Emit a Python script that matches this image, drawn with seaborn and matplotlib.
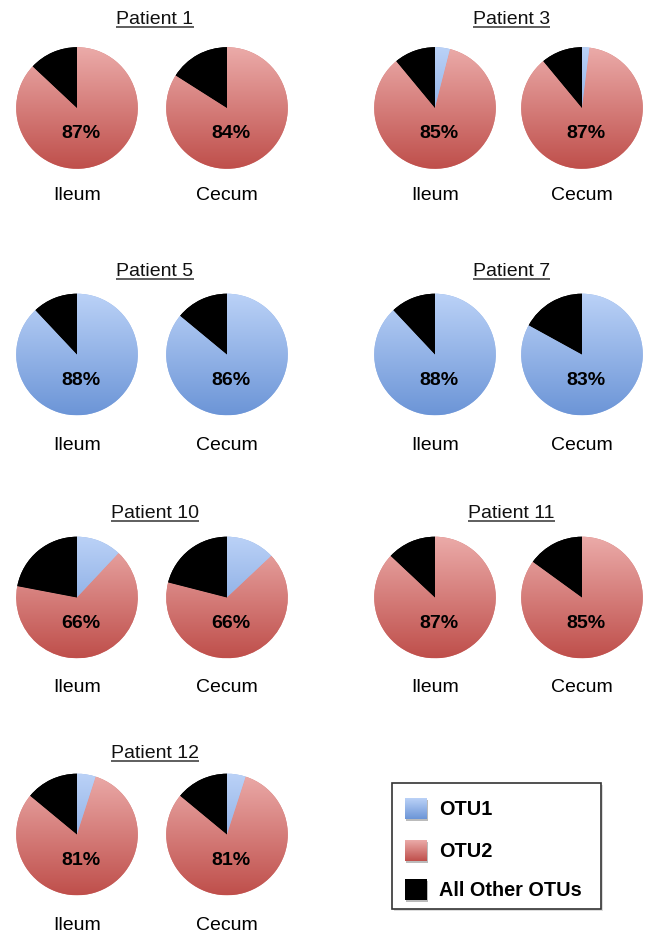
import numpy as np
import matplotlib
matplotlib.use("Agg")
import matplotlib.pyplot as plt
import seaborn as sns
from matplotlib.colors import LinearSegmentedColormap
from matplotlib.patches import Rectangle
from matplotlib.lines import Line2D

sns.set_theme(style="white")
plt.rcParams['font.family'] = ['Liberation Sans', 'DejaVu Sans']

# Relative abundance (%) of OTU1, OTU2 and all other OTUs per patient and site
patients = ["Patient 1", "Patient 3", "Patient 5", "Patient 7",
            "Patient 10", "Patient 11", "Patient 12"]
sites = ["Ileum", "Cecum"]
otu1_ileum = [0, 4, 88, 88, 12, 0, 5]
otu2_ileum = [87, 85, 0, 0, 66, 87, 81]
other_ileum = [13, 11, 12, 12, 22, 13, 14]
otu1_cecum = [0, 2, 86, 83, 13, 0, 5]
otu2_cecum = [84, 87, 0, 0, 66, 85, 81]
other_cecum = [16, 11, 14, 17, 21, 15, 14]
legend_labels = ["OTU1", "OTU2", "All Other OTUs"]

W, H = 655, 933
fig = plt.figure(figsize=(W / 100, H / 100), dpi=100)
fig.patch.set_facecolor("white")

# full-figure overlay in pixel coordinates for text and legend
ov = fig.add_axes([0, 0, 1, 1])
ov.set_xlim(0, W)
ov.set_ylim(H, 0)
ov.axis("off")

blue_cmap = LinearSegmentedColormap.from_list("otu1", ["#6C95D7", "#BBD2F7"])
red_cmap = LinearSegmentedColormap.from_list("otu2", ["#BF4F4B", "#EBABA9"])
black_cmap = LinearSegmentedColormap.from_list("other", ["#000000", "#000000"])
cmaps = [blue_cmap, red_cmap, black_cmap]
mid_colors = ["#93B3E8", "#D67D7A", "#000000"]

grad = np.linspace(0, 1, 256).reshape(-1, 1)

pair_x = [(77, 227), (435, 582)]
row_cy = [108, 354.5, 597.5, 834.5]
title_base = [24, 276, 518, 758]
label_base = [200, 450, 692, 930]
R = 62
FS = 14


def draw_pie(cx, cy, values):
    ax = fig.add_axes([(cx - R) / W, (H - cy - R) / H, 2 * R / W, 2 * R / H])
    wedges, _ = ax.pie(values, colors=mid_colors, startangle=90,
                       counterclock=False, radius=1,
                       wedgeprops=dict(linewidth=0))
    for w, v, cm in zip(wedges, values, cmaps):
        if v <= 0:
            w.set_visible(False)
            continue
        im = ax.imshow(grad, cmap=cm, origin="lower", extent=[-1, 1, -1, 1],
                       aspect="auto", interpolation="bilinear", zorder=2)
        im.set_clip_path(w)
    ax.set_xlim(-1.02, 1.02)
    ax.set_ylim(-1.02, 1.02)
    ax.set_aspect("equal")
    ax.axis("off")
    main = max(values[0], values[1])
    ax.text(0.07, -0.42, f"{main}%", ha="center", va="center",
            fontsize=FS, fontweight="bold", color="black", zorder=5)
    return ax


fig.canvas.draw()
renderer = fig.canvas.get_renderer()

for i, name in enumerate(patients):
    row, col = divmod(i, 2)
    xs = pair_x[col]
    cy = row_cy[row]
    draw_pie(xs[0], cy, [otu1_ileum[i], otu2_ileum[i], other_ileum[i]])
    draw_pie(xs[1], cy, [otu1_cecum[i], otu2_cecum[i], other_cecum[i]])
    for x, s in zip(xs, sites):
        ov.text(x, label_base[row], s, ha="center", va="baseline",
                fontsize=FS, color="black")
    tx = (xs[0] + xs[1]) / 2 + 3
    t = ov.text(tx, title_base[row], name, ha="center", va="baseline",
                fontsize=FS, color="#111111")
    bb = t.get_window_extent(renderer=renderer)
    uy = title_base[row] + 2.5
    ov.add_line(Line2D([bb.x0, bb.x1], [uy, uy], color="#333333",
                       linewidth=1.1, solid_capstyle="butt"))

# legend box
ov.add_patch(Rectangle((394, 785), 209, 126, facecolor="#DDDDDD",
                       edgecolor="none", zorder=1))
ov.add_patch(Rectangle((392, 783), 209, 126, facecolor="white",
                       edgecolor="#333333", linewidth=1.2, zorder=2))
sq_y = [(798, 819), (840, 861), (879, 900)]
for (y0, y1), cm, mc, lab in zip(sq_y, cmaps, mid_colors, legend_labels):
    ov.add_patch(Rectangle((406, y0 + 1.5), 22, y1 - y0, facecolor="#BBBBBB",
                           edgecolor="none", zorder=3))
    sq = Rectangle((405, y0), 22, y1 - y0, facecolor=mc, edgecolor="none",
                   zorder=4)
    ov.add_patch(sq)
    im = ov.imshow(grad, cmap=cm, origin="lower", extent=[405, 427, y1, y0],
                   aspect="auto", interpolation="bilinear", zorder=5)
    im.set_clip_path(sq)
    ov.text(439, (y0 + y1) / 2 + 1, lab, ha="left", va="center",
            fontsize=14.3, fontweight="bold", color="black", zorder=6)
ov.set_xlim(0, W)
ov.set_ylim(H, 0)

fig.savefig("out.png", dpi=100, facecolor="white")
